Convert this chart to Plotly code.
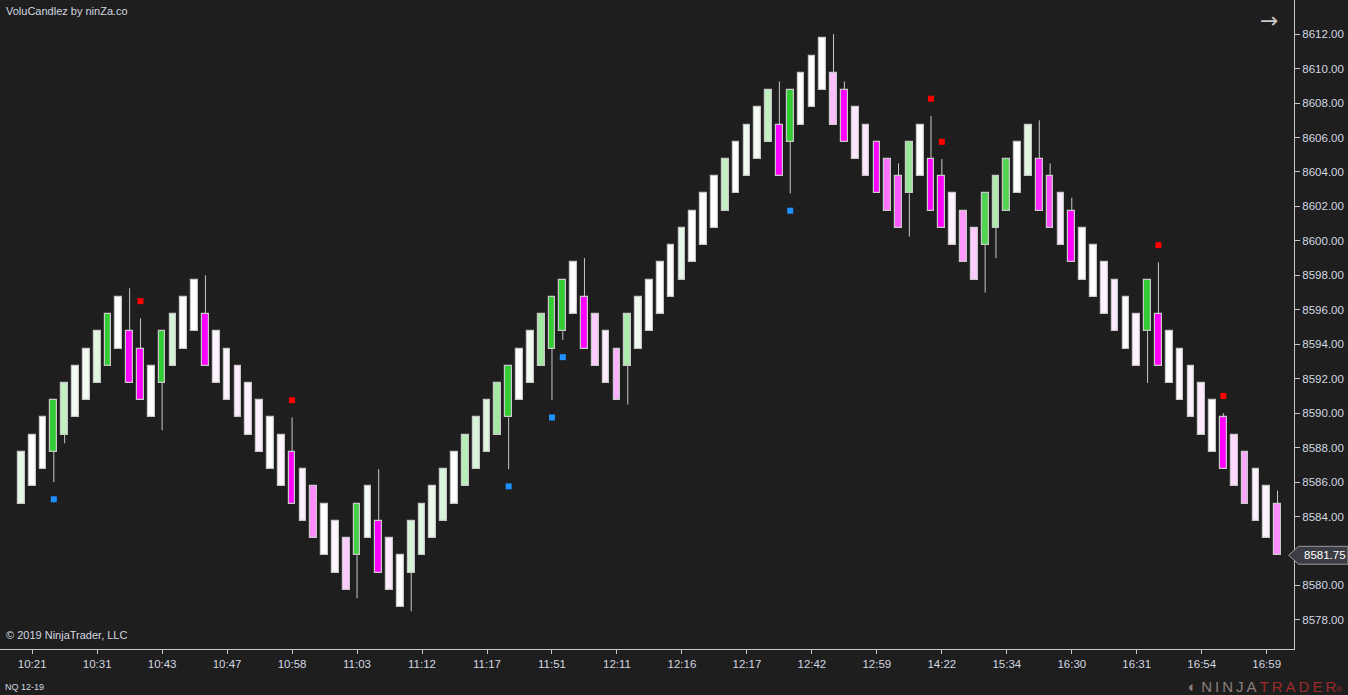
import plotly.graph_objects as go

# renko-style bricks (3 pt bricks, 1 pt steps)
bar_open = [
    8584.75, 8585.75, 8586.75, 8587.75, 8588.75, 8589.75, 8590.75, 8591.75, 8592.75, 8593.75,
    8594.75, 8593.75, 8592.75, 8591.75, 8592.75, 8593.75, 8594.75, 8595.75, 8594.75, 8593.75,
    8592.75, 8591.75, 8590.75, 8589.75, 8588.75, 8587.75, 8586.75, 8585.75, 8584.75, 8583.75,
    8582.75, 8581.75, 8582.75, 8583.75, 8582.75, 8581.75, 8580.75, 8581.75, 8582.75, 8583.75,
    8584.75, 8585.75, 8586.75, 8587.75, 8588.75, 8589.75, 8590.75, 8591.75, 8592.75, 8593.75,
    8594.75, 8595.75, 8596.75, 8595.75, 8594.75, 8593.75, 8592.75, 8593.75, 8594.75, 8595.75,
    8596.75, 8597.75, 8598.75, 8599.75, 8600.75, 8601.75, 8602.75, 8603.75, 8604.75, 8605.75,
    8606.75, 8605.75, 8606.75, 8607.75, 8608.75, 8609.75, 8608.75, 8607.75, 8606.75, 8605.75,
    8604.75, 8603.75, 8602.75, 8603.75, 8604.75, 8603.75, 8602.75, 8601.75, 8600.75, 8599.75,
    8600.75, 8601.75, 8602.75, 8603.75, 8604.75, 8603.75, 8602.75, 8601.75, 8600.75, 8599.75,
    8598.75, 8597.75, 8596.75, 8595.75, 8594.75, 8595.75, 8594.75, 8593.75, 8592.75, 8591.75,
    8590.75, 8589.75, 8588.75, 8587.75, 8586.75, 8585.75, 8584.75,
]
bar_close = [
    8587.75, 8588.75, 8589.75, 8590.75, 8591.75, 8592.75, 8593.75, 8594.75, 8595.75, 8596.75,
    8591.75, 8590.75, 8589.75, 8594.75, 8595.75, 8596.75, 8597.75, 8592.75, 8591.75, 8590.75,
    8589.75, 8588.75, 8587.75, 8586.75, 8585.75, 8584.75, 8583.75, 8582.75, 8581.75, 8580.75,
    8579.75, 8584.75, 8585.75, 8580.75, 8579.75, 8578.75, 8583.75, 8584.75, 8585.75, 8586.75,
    8587.75, 8588.75, 8589.75, 8590.75, 8591.75, 8592.75, 8593.75, 8594.75, 8595.75, 8596.75,
    8597.75, 8598.75, 8593.75, 8592.75, 8591.75, 8590.75, 8595.75, 8596.75, 8597.75, 8598.75,
    8599.75, 8600.75, 8601.75, 8602.75, 8603.75, 8604.75, 8605.75, 8606.75, 8607.75, 8608.75,
    8603.75, 8608.75, 8609.75, 8610.75, 8611.75, 8606.75, 8605.75, 8604.75, 8603.75, 8602.75,
    8601.75, 8600.75, 8605.75, 8606.75, 8601.75, 8600.75, 8599.75, 8598.75, 8597.75, 8602.75,
    8603.75, 8604.75, 8605.75, 8606.75, 8601.75, 8600.75, 8599.75, 8598.75, 8597.75, 8596.75,
    8595.75, 8594.75, 8593.75, 8592.75, 8597.75, 8592.75, 8591.75, 8590.75, 8589.75, 8588.75,
    8587.75, 8586.75, 8585.75, 8584.75, 8583.75, 8582.75, 8581.75,
]
# relative volume -> colour intensity (0 = white, 1 = full green / magenta)
vol_level = [
    0.12, 0.0, 0.0, 1.0, 0.3, 0.06, 0.06, 0.15, 1.0, 0.0,
    1.0, 1.0, 0.0, 1.0, 0.2, 0.0, 0.0, 1.0, 0.04, 0.04,
    0.08, 0.06, 0.06, 0.0, 0.04, 1.0, 0.06, 0.45, 0.0, 0.04,
    0.2, 0.9, 0.05, 1.0, 0.08, 0.0, 0.2, 0.15, 0.1, 0.18,
    0.0, 0.35, 0.2, 0.15, 0.45, 1.0, 0.0, 0.06, 0.45, 1.0,
    1.0, 0.0, 1.0, 0.2, 0.08, 0.3, 0.4, 0.08, 0.0, 0.0,
    0.0, 0.12, 0.0, 0.0, 0.0, 0.3, 0.0, 0.08, 0.06, 0.3,
    1.0, 1.0, 0.0, 0.0, 0.0, 0.25, 1.0, 0.1, 0.1, 1.0,
    0.55, 0.65, 0.5, 0.0, 1.0, 1.0, 0.06, 0.4, 0.2, 0.85,
    0.4, 0.85, 0.0, 0.15, 0.85, 0.7, 0.08, 1.0, 0.0, 0.0,
    0.05, 0.08, 0.0, 0.05, 1.0, 1.0, 0.0, 0.02, 0.06, 0.08,
    0.0, 1.0, 0.15, 0.35, 0.05, 0.05, 0.45,
]
# wicks (only bars that have one)
wick_bar = [3, 4, 10, 11, 13, 17, 25, 31, 33, 36, 45, 49, 50, 52, 56, 70, 71, 75, 76,
            81, 82, 84, 85, 89, 90, 94, 95, 97, 104, 105, 111, 116]
wick_end = [8586.0, 8588.25, 8597.25, 8595.5, 8589.0, 8598.0, 8589.75, 8579.25, 8586.75,
            8578.5, 8586.75, 8590.75, 8594.25, 8599.0, 8590.5, 8609.25, 8602.75, 8612.0,
            8609.25, 8604.5, 8600.25, 8607.25, 8604.75, 8597.0, 8599.0, 8607.0, 8604.5,
            8602.5, 8591.75, 8598.75, 8590.0, 8585.5]
# signal dots
buy_bar = [3, 45, 49, 50, 71]
buy_price = [8585.0, 8585.75, 8589.75, 8593.25, 8601.75]
sell_bar = [11, 25, 84, 85, 105, 111]
sell_price = [8596.5, 8590.75, 8608.25, 8605.75, 8599.75, 8591.0]

time_labels = ["10:21", "10:31", "10:43", "10:47", "10:58", "11:03", "11:12", "11:17",
               "11:51", "12:11", "12:16", "12:17", "12:42", "12:59", "14:22", "15:34",
               "16:30", "16:31", "16:54", "16:59"]
label_bars = list(range(1, 117, 6))

BG = "#1e1e1e"
AXIS = "#c8c8c8"
TXT = "#d4d8e0"
FONT = "Liberation Sans, Arial, sans-serif"


def blend(rgb, t):
    r, g, b = (round(255 + (c - 255) * t) for c in rgb)
    return f"rgb({r},{g},{b})"


n = len(bar_open)
idx = list(range(n))
colors = []
for o, c, v in zip(bar_open, bar_close, vol_level):
    colors.append(blend((50, 205, 50), v) if c > o else blend((255, 0, 255), v))

wx, wy = [], []
for b, e in zip(wick_bar, wick_end):
    top = max(bar_open[b], bar_close[b])
    bot = min(bar_open[b], bar_close[b])
    wx += [b, b, None]
    wy += [top if e > top else bot, e, None]

fig = go.Figure()
fig.add_trace(go.Scatter(x=wx, y=wy, mode="lines", line=dict(color=AXIS, width=1),
                         hoverinfo="skip", showlegend=False))
fig.add_trace(go.Bar(
    x=idx,
    base=[min(o, c) for o, c in zip(bar_open, bar_close)],
    y=[abs(c - o) for o, c in zip(bar_open, bar_close)],
    width=0.62,
    marker=dict(color=colors, line=dict(color=AXIS, width=1.2)),
    showlegend=False,
))
fig.add_trace(go.Scatter(x=buy_bar, y=buy_price, mode="markers",
                         marker=dict(symbol="square", size=6, color="#1e90ff"),
                         showlegend=False))
fig.add_trace(go.Scatter(x=sell_bar, y=sell_price, mode="markers",
                         marker=dict(symbol="square", size=6, color="#ff0000"),
                         showlegend=False))

# last price tag on the axis
last = bar_close[-1]
fig.add_shape(type="path", xref="paper", yref="y",
              path=f"M 0.9958 {last} L 1.0035 {last + 0.52} L 1.0417 {last + 0.52} "
                   f"L 1.0417 {last - 0.52} L 1.0035 {last - 0.52} Z",
              fillcolor="#3c3c44", line=dict(color="#9a9aa0", width=1))
fig.add_annotation(xref="paper", yref="y", x=1.0063, y=last, text=f"{last:.2f}",
                   showarrow=False, xanchor="left", yanchor="middle",
                   font=dict(family=FONT, size=11.5, color="#ffffff"))

fig.add_annotation(xref="paper", yref="paper", x=0.003, y=0.983, text="VoluCandlez by ninZa.co",
                   showarrow=False, xanchor="left", yanchor="middle",
                   font=dict(family=FONT, size=11, color=TXT))
fig.add_annotation(xref="paper", yref="paper", x=0.003, y=0.021, text="© 2019 NinjaTrader, LLC",
                   showarrow=False, xanchor="left", yanchor="middle",
                   font=dict(family=FONT, size=11, color=TXT))
fig.add_annotation(xref="paper", yref="paper", x=0.002, y=-0.058, text="NQ 12-19",
                   showarrow=False, xanchor="left", yanchor="middle",
                   font=dict(family=FONT, size=9, color=TXT))
fig.add_annotation(xref="paper", yref="paper", x=0.981, y=0.968, text="→",
                   showarrow=False, xanchor="center", yanchor="middle",
                   font=dict(family="DejaVu Sans", size=22, color=AXIS))
fig.add_annotation(xref="paper", yref="paper", x=1.039, y=-0.058,
                   text="<span style='color:#8a7f7a'>◐ N\u2009I\u2009N\u2009J\u2009A</span>"
                        "<span style='color:#9b2a2a'>\u2009T\u2009R\u2009A\u2009D\u2009E\u2009R</span>"
                        "<span style='color:#9b2a2a;font-size:8px'>®</span>",
                   showarrow=False, xanchor="right", yanchor="middle",
                   font=dict(family=FONT, size=15))

fig.update_layout(
    width=1348, height=695,
    margin=dict(l=0, r=54, t=0, b=46),
    paper_bgcolor=BG, plot_bgcolor=BG,
    bargap=0, hovermode=False,
    font=dict(family=FONT, size=11, color=TXT),
    xaxis=dict(range=[-1.97, 117.52], tickvals=label_bars, ticktext=time_labels,
               showgrid=False, zeroline=False, showline=True, linecolor=AXIS, linewidth=1,
               ticks="outside", ticklen=4, tickcolor=AXIS, tickfont=dict(size=11.5, color=TXT)),
    yaxis=dict(range=[8576.31, 8613.98], side="right", dtick=2, tick0=8578, tickformat=".2f",
               showgrid=False, zeroline=False, showline=True, linecolor=AXIS, linewidth=1,
               ticks="outside", ticklen=5, tickcolor=AXIS, tickfont=dict(size=11.5, color=TXT)),
)

# page has a default body margin; drop it so the chart fills the window
fig.write_html("out.html", config={"displayModeBar": False},
               post_script="document.body.style.margin='0';document.body.style.background='#1e1e1e';")
